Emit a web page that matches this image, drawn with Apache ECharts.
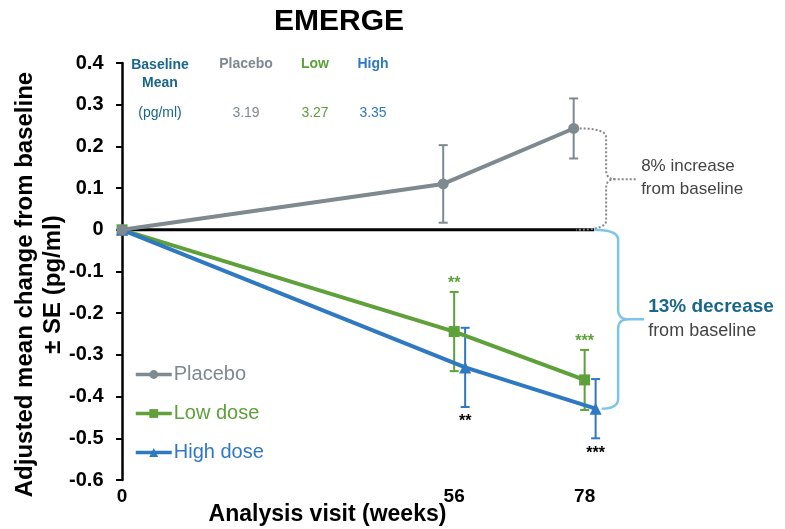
<!DOCTYPE html>
<html><head><meta charset="utf-8">
<script src="https://cdn.jsdelivr.net/npm/echarts@6.0.0/dist/echarts.min.js"></script>
<style>html,body{margin:0;padding:0;background:#fff}#c{width:785px;height:529px}</style>
</head><body><div id="c"></div>
<script>
// ---- data ----
const weeks = [0, 56, 78];
const xTickLabels = [0, 56, 78];
const seriesNames = ['Placebo', 'Low dose', 'High dose'];
const placeboMean = [0, 0.110, 0.243];
const placeboSE   = [0, 0.093, 0.072];
const lowMean     = [0, -0.244, -0.360];
const lowSE       = [0, 0.095, 0.072];
const highMean    = [0, -0.330, -0.429];
const highSE      = [0, 0.095, 0.071];
const lowStars    = ['', '**', '***'];
const highStars   = ['', '**', '***'];
const baselineHeader = ['Placebo', 'Low', 'High'];
const baselineMeans  = ['3.19', '3.27', '3.35'];
const increaseText = ['8% increase', 'from baseline'];
const decreaseText = ['13% decrease', 'from baseline'];

// ---- styles ----
const FONT = '"Liberation Sans", Arial, Helvetica, sans-serif';
const C = { placebo: '#7e8990', low: '#5ea03a', high: '#2f78c2', teal: '#18668a', bracket: '#7cc5e8', note: '#444444' };
const dodge = [-1.85, 0, 1.85]; // visual side-by-side offset (weeks)

function pts(mean, d) { return weeks.map((w, i) => [w === 0 ? 0 : w + d, mean[i]]); }
function errData(mean, se, d) {
  const out = [];
  weeks.forEach((w, i) => { if (se[i] > 0) out.push([w + d, mean[i] - se[i], mean[i] + se[i], i]); });
  return out;
}
function errRender(color, stars, starColor, side) {
  return function (params, api) {
    const x = api.value(0), lo = api.value(1), hi = api.value(2), idx = api.value(3);
    const t = api.coord([x, hi]), b = api.coord([x, lo]);
    const cw = 4.5;
    const st = { stroke: color, lineWidth: 2 };
    const ch = [
      { type: 'line', shape: { x1: t[0], y1: t[1], x2: b[0], y2: b[1] }, style: st },
      { type: 'line', shape: { x1: t[0] - cw, y1: t[1], x2: t[0] + cw, y2: t[1] }, style: st },
      { type: 'line', shape: { x1: b[0] - cw, y1: b[1], x2: b[0] + cw, y2: b[1] }, style: st }
    ];
    if (stars && stars[idx]) {
      ch.push({ type: 'text', x: t[0], y: side === 'top' ? t[1] - 8 : b[1] + 15,
        style: { text: stars[idx], fill: starColor, font: 'bold 16px ' + FONT, align: 'center', verticalAlign: 'middle' } });
    }
    return { type: 'group', children: ch };
  };
}

const chart = echarts.init(document.getElementById('c'));
const option = {
  animation: false,
  backgroundColor: '#fff',
  title: { text: 'EMERGE', left: 334, top: 2, textAlign: 'center',
    textStyle: { fontSize: 30, fontWeight: 'bold', color: '#000', fontFamily: FONT } },
  grid: { left: 118.5, top: 63, width: 478, height: 417, containLabel: false, outerBoundsMode: 'none' },
  legend: {
    orient: 'vertical', left: 129, top: 359, itemWidth: 36, itemHeight: 11, itemGap: 18,
    data: [
      { name: seriesNames[0], textStyle: { color: C.placebo } },
      { name: seriesNames[1], textStyle: { color: C.low } },
      { name: seriesNames[2], textStyle: { color: C.high } }
    ],
    lineStyle: { width: 3.5 },
    textStyle: { fontSize: 20, fontFamily: FONT, lineHeight: 21, padding: [0, 0, 0, -3] }
  },
  xAxis: {
    type: 'value', min: -0.6, max: 80,
    axisLine: { show: false }, axisTick: { show: false }, splitLine: { show: false },
    axisLabel: { customValues: xTickLabels, fontSize: 19, fontWeight: 'bold', color: '#000', fontFamily: FONT, margin: 7 },
    name: 'Analysis visit (weeks)', nameLocation: 'middle', nameGap: 23, nameMoveOverlap: false,
    nameTextStyle: { fontSize: 23, fontWeight: 'bold', color: '#000', fontFamily: FONT, padding: [0, 60, 0, 0] }
  },
  yAxis: {
    type: 'value', min: -0.6, max: 0.4, interval: 0.1,
    axisLine: { show: true, lineStyle: { color: '#000', width: 2.5 } },
    axisTick: { show: true, inside: false, length: 6, lineStyle: { color: '#000', width: 2 } },
    splitLine: { show: false },
    axisLabel: { fontSize: 20, fontWeight: 'bold', color: '#000', fontFamily: FONT, margin: 15,
      formatter: v => String(Math.round(v * 10) / 10) },
    name: 'Adjusted mean change from baseline\n± SE (pg/ml)', nameLocation: 'middle', nameRotate: 90, nameGap: 51, nameMoveOverlap: false,
    nameTextStyle: { fontSize: 24, fontWeight: 'bold', color: '#000', fontFamily: FONT, lineHeight: 28, padding: [0, 26, 0, 0] }
  },
  series: [
    { name: 'zero', type: 'line', data: [[-0.6, 0], [79.6, 0]], symbol: 'none', silent: true, z: 1,
      lineStyle: { color: '#000', width: 3 } },
    { name: 'Placebo SE', type: 'custom', z: 1, data: errData(placeboMean, placeboSE, dodge[0]),
      encode: { x: 0, y: [1, 2] }, renderItem: errRender(C.placebo, null) },
    { name: 'Low SE', type: 'custom', z: 1, data: errData(lowMean, lowSE, dodge[1]),
      encode: { x: 0, y: [1, 2] }, renderItem: errRender(C.low, lowStars, C.low, 'top') },
    { name: 'High SE', type: 'custom', z: 1, data: errData(highMean, highSE, dodge[2]),
      encode: { x: 0, y: [1, 2] }, renderItem: errRender(C.high, highStars, '#000', 'bottom') },
    { name: seriesNames[1], type: 'line', z: 2, data: pts(lowMean, dodge[1]), symbol: 'rect', symbolSize: 11,
      itemStyle: { color: C.low }, lineStyle: { color: C.low, width: 4 } },
    { name: seriesNames[2], type: 'line', z: 3, data: pts(highMean, dodge[2]), symbol: 'triangle', symbolSize: 12,
      itemStyle: { color: C.high }, lineStyle: { color: C.high, width: 4 } },
    { name: seriesNames[0], type: 'line', z: 4, data: pts(placeboMean, dodge[0]), symbol: 'circle', symbolSize: 11,
      itemStyle: { color: C.placebo }, lineStyle: { color: C.placebo, width: 4 } }
  ]
};
chart.setOption(option);

// ---- annotations (anchored to data via the chart's scales) ----
const Z = chart.convertToPixel({ gridIndex: 0 }, [79.6, 0]);
const P = chart.convertToPixel({ gridIndex: 0 }, [78 + dodge[0], placeboMean[2]]);
const H = chart.convertToPixel({ gridIndex: 0 }, [78 + dodge[2], highMean[2]]);

function quad(a, c, b, n) {
  const out = [];
  for (let k = 1; k <= n; k++) {
    const t = k / n, u = 1 - t;
    out.push([u * u * a[0] + 2 * u * t * c[0] + t * t * b[0], u * u * a[1] + 2 * u * t * c[1] + t * t * b[1]]);
  }
  return out;
}
function braceHalves(x0, top, x1, bot, bx, tipLen, r) {
  const mid = (top + bot) / 2;
  const a = [[x0, top]].concat(quad([x0, top], [bx, top], [bx, top + r], 10))
    .concat([[bx, mid - r]]).concat(quad([bx, mid - r], [bx, mid], [bx + r, mid], 10)).concat([[bx + tipLen, mid]]);
  const b = [[bx + r, mid]].concat(quad([bx + r, mid], [bx, mid], [bx, mid + r], 10))
    .concat([[bx, bot - r]]).concat(quad([bx, bot - r], [bx, bot], [x1, bot], 10));
  return [a, b];
}
const gBx = Z[0] + 12, gMid = (P[1] + Z[1]) / 2;
const bBx = Z[0] + 24, bMid = (Z[1] + H[1]) / 2;
const gHalves = braceHalves(P[0] + 6, P[1], Z[0] - 18, Z[1], gBx, 31, 9);
const bHalves = braceHalves(Z[0], Z[1], H[0] + 6, H[1], bBx, 26, 10);

const tableX = [160, 246, 315, 373];
const tableColors = [C.placebo, C.low, C.high];
const gStyle = { fill: null, stroke: '#888', lineWidth: 2, lineDash: [2, 2] };
const bStyle = { fill: null, stroke: C.bracket, lineWidth: 2.5 };
const graphics = [
  { type: 'polyline', z: 10, shape: { points: gHalves[0] }, style: gStyle },
  { type: 'polyline', z: 10, shape: { points: gHalves[1] }, style: gStyle },
  { type: 'polyline', z: 10, shape: { points: bHalves[0] }, style: bStyle },
  { type: 'polyline', z: 10, shape: { points: bHalves[1] }, style: bStyle },
  { type: 'text', x: gBx + 35, y: gMid - 13, style: { text: increaseText[0], fill: C.note, font: '17px ' + FONT, align: 'left', verticalAlign: 'middle' } },
  { type: 'text', x: gBx + 35, y: gMid + 10, style: { text: increaseText[1], fill: C.note, font: '17px ' + FONT, align: 'left', verticalAlign: 'middle' } },
  { type: 'text', x: bBx + 30, y: bMid - 12, style: { text: decreaseText[0], fill: C.teal, font: 'bold 19px ' + FONT, align: 'left', verticalAlign: 'middle' } },
  { type: 'text', x: bBx + 30, y: bMid + 12, style: { text: decreaseText[1], fill: C.note, font: '18px ' + FONT, align: 'left', verticalAlign: 'middle' } },
  { type: 'text', x: tableX[0], y: 56, style: { text: 'Baseline\nMean', fill: C.teal, font: 'bold 14px ' + FONT, lineHeight: 18, align: 'center', verticalAlign: 'top' } },
  { type: 'text', x: tableX[0], y: 113, style: { text: '(pg/ml)', fill: C.teal, font: '14px ' + FONT, align: 'center', verticalAlign: 'middle' } }
];
baselineHeader.forEach((h, i) => {
  graphics.push({ type: 'text', x: tableX[i + 1], y: 64, style: { text: h, fill: tableColors[i], font: 'bold 14px ' + FONT, align: 'center', verticalAlign: 'middle' } });
  graphics.push({ type: 'text', x: tableX[i + 1], y: 113, style: { text: baselineMeans[i], fill: tableColors[i], font: '14px ' + FONT, align: 'center', verticalAlign: 'middle' } });
});
chart.setOption({ graphic: graphics });
</script>
</body></html>
